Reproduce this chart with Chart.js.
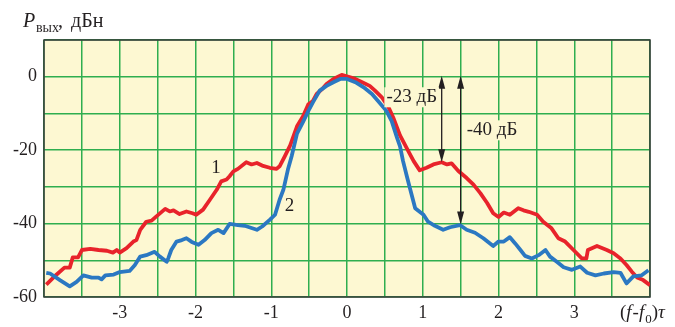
<!DOCTYPE html>
<html>
<head>
<meta charset="utf-8">
<script src="https://cdn.jsdelivr.net/npm/chart.js@4/dist/chart.umd.min.js"></script>
<style>
  html, body { margin: 0; padding: 0; background: #fff; }
  #wrap { width: 675px; height: 327px; }
</style>
</head>
<body>
<div id="wrap"><canvas id="chart" width="675" height="327"></canvas></div>
<script>
// curve 1 (red)
const curve1Freq = [-3.97, -3.84, -3.73, -3.66, -3.62, -3.55, -3.5, -3.39, -3.28, -3.17, -3.09, -3.04, -3, -2.91, -2.82, -2.78, -2.73, -2.65, -2.58, -2.52, -2.4, -2.34, -2.29, -2.21, -2.12, -2.04, -1.99, -1.9, -1.81, -1.72, -1.66, -1.59, -1.55, -1.5, -1.44, -1.33, -1.26, -1.19, -1.12, -1.02, -0.93, -0.89, -0.82, -0.75, -0.66, -0.58, -0.51, -0.45, -0.4, -0.33, -0.27, -0.18, -0.07, 0.02, 0.11, 0.2, 0.3, 0.37, 0.46, 0.55, 0.61, 0.7, 0.79, 0.88, 0.96, 1.05, 1.14, 1.25, 1.32, 1.38, 1.47, 1.58, 1.67, 1.76, 1.85, 1.93, 2, 2.07, 2.15, 2.26, 2.33, 2.4, 2.51, 2.59, 2.7, 2.79, 2.88, 2.99, 3.1, 3.16, 3.18, 3.3, 3.43, 3.52, 3.61, 3.69, 3.76, 3.83, 3.91, 4];
const curve1Level = [-56.6, -54, -52, -52, -49.2, -49.2, -47.2, -46.9, -47.2, -47.4, -47.9, -47.2, -47.9, -46.7, -44.9, -44.5, -41.7, -39.5, -39.2, -38.1, -36, -36.7, -36.4, -37.4, -36.7, -37.2, -37.6, -36.2, -33.5, -30.8, -28.5, -28, -27.1, -25.8, -25.1, -23.3, -23.9, -23.5, -24.2, -24.8, -25.1, -24.4, -21.6, -18.7, -13.5, -10.8, -7.5, -6.6, -4.7, -3.4, -2, -0.6, 0.5, 0, -0.6, -1.5, -2.5, -3.8, -5.6, -8.4, -11.1, -16, -19.5, -23, -25.5, -24.8, -23.9, -23.3, -23.9, -23.6, -25.7, -27.6, -29.4, -31.7, -34.4, -37.2, -38.2, -37, -37.6, -35.8, -36.4, -36.8, -37.6, -39.5, -41.3, -44, -44.9, -47.2, -49.5, -49.5, -47.2, -46.1, -47.2, -48.1, -49.5, -51.3, -53.1, -54.7, -55.4, -56.8];

// curve 2 (blue)
const curve2Freq = [-3.97, -3.92, -3.79, -3.66, -3.57, -3.48, -3.37, -3.28, -3.24, -3.19, -3.08, -3, -2.87, -2.8, -2.73, -2.65, -2.54, -2.47, -2.38, -2.36, -2.32, -2.25, -2.18, -2.12, -2.05, -1.96, -1.88, -1.79, -1.7, -1.63, -1.55, -1.44, -1.35, -1.29, -1.19, -1.12, -1.02, -0.95, -0.89, -0.84, -0.78, -0.73, -0.66, -0.58, -0.51, -0.45, -0.36, -0.27, -0.18, -0.09, 0, 0.11, 0.22, 0.33, 0.41, 0.52, 0.59, 0.66, 0.7, 0.74, 0.79, 0.83, 0.9, 1.01, 1.07, 1.16, 1.27, 1.36, 1.49, 1.58, 1.69, 1.8, 1.93, 2, 2.07, 2.15, 2.22, 2.29, 2.35, 2.44, 2.53, 2.62, 2.68, 2.77, 2.86, 2.97, 3.08, 3.17, 3.28, 3.39, 3.52, 3.61, 3.69, 3.78, 3.89, 3.98];
const curve2Level = [-53.4, -53.6, -55.4, -57.1, -55.9, -54.1, -54.7, -54.7, -55.2, -54.1, -53.9, -53.2, -52.9, -51.3, -49, -48.6, -47.7, -49, -50.4, -49.5, -47.2, -44.9, -44.5, -44, -45, -45.8, -44.5, -42.6, -41.7, -42.6, -40.1, -40.4, -40.6, -41, -41.7, -40.8, -39, -37.6, -33.5, -30.8, -25.3, -21.6, -15.5, -12.3, -9.3, -7, -3.8, -2.5, -1.5, -0.6, -0.6, -1.5, -2.9, -4.7, -6.6, -9.3, -12.1, -16.6, -19, -23, -27.1, -30.3, -35.8, -37.6, -39.5, -40.6, -41.7, -41, -40.4, -41.7, -42.5, -44, -46.1, -44.9, -44.9, -43.7, -45.4, -47.2, -48.8, -49.5, -48.6, -47.2, -49, -50.4, -51.9, -52.6, -51.7, -53.4, -54.1, -53.6, -53.2, -53.4, -56.3, -54.4, -54.1, -52.7];

// axes
const xMin = -4, xMax = 4, xStep = 0.5;
const yMin = -60, yMax = 10, yStep = 10;
const xLabels = [-3, -2, -1, 0, 1, 2, 3];
const yLabels = [0, -20, -40, -60];

// dB markers: [freq, from level, to level, text, text freq, text level]
const markers = [
  [1.25, 0, -23, "-23 дБ", 0.52, -5.6],
  [1.5, 0, -40, "-40 дБ", 1.58, -14.6]
];
// curve numbers: [text, freq, level]
const curveTags = [["1", -1.73, -24.8], ["2", -0.76, -35.3]];

const BG = "#fdf8d2";
const GRID = "#2fae4f";
const INK = "#231f20";
const SERIF = "'Liberation Serif', 'DejaVu Serif', serif";

const toPoints = (xs, ys) => xs.map((x, i) => ({ x, y: ys[i] }));

const plotDecor = {
  id: "plotDecor",
  beforeDraw(chart) {
    const { ctx, chartArea: a } = chart;
    ctx.save();
    ctx.fillStyle = BG;
    ctx.fillRect(a.left, a.top, a.right - a.left, a.bottom - a.top);
    ctx.restore();
  },
  beforeDatasetsDraw(chart) {
    const { ctx, chartArea: a } = chart;
    ctx.save();
    ctx.strokeStyle = "#3a3a3a";
    ctx.lineWidth = 1.5;
    ctx.strokeRect(a.left, a.top, a.right - a.left, a.bottom - a.top);
    ctx.restore();
  },
  afterDraw(chart) {
    const { ctx } = chart;
    const xs = chart.scales.x, ys = chart.scales.y;
    ctx.save();
    ctx.fillStyle = INK;
    ctx.strokeStyle = INK;
    ctx.textBaseline = "middle";

    markers.forEach(([f, l1, l2, text, tf, tl]) => {
      const px = xs.getPixelForValue(f);
      const y1 = ys.getPixelForValue(l1) - 1;
      const y2 = ys.getPixelForValue(l2) + 1;
      ctx.lineWidth = 1.3;
      ctx.beginPath();
      ctx.moveTo(px, y1 + 8);
      ctx.lineTo(px, y2 - 8);
      ctx.stroke();
      [[y1, 1], [y2, -1]].forEach(([tip, dir]) => {
        ctx.beginPath();
        ctx.moveTo(px, tip);
        ctx.lineTo(px - 3.5, tip + dir * 13);
        ctx.lineTo(px + 3.5, tip + dir * 13);
        ctx.closePath();
        ctx.fill();
      });
      ctx.font = "19px " + SERIF;
      const tx = xs.getPixelForValue(tf), ty = ys.getPixelForValue(tl);
      const w = ctx.measureText(text).width;
      ctx.fillStyle = BG;
      ctx.fillRect(tx - 2, ty - 10, w + 4, 20);
      ctx.fillStyle = INK;
      ctx.textAlign = "left";
      ctx.fillText(text, tx, ty);
    });

    ctx.font = "19px " + SERIF;
    ctx.textAlign = "center";
    curveTags.forEach(([t, f, l]) => ctx.fillText(t, xs.getPixelForValue(f), ys.getPixelForValue(l)));

    // y title: Pвых, дБн
    ctx.textAlign = "left";
    ctx.textBaseline = "alphabetic";
    ctx.font = "italic 20px " + SERIF;
    ctx.fillText("P", 23, 27);
    ctx.font = "14px " + SERIF;
    ctx.fillText("вых", 36, 32);
    ctx.font = "20px " + SERIF;
    ctx.fillText(",", 58, 27);
    ctx.fillText("дБн", 71, 27);

    // x title: (f-f0)τ
    let x = 620;
    const y = 318;
    const parts = [["(", "19px"], ["f", "italic 19px"], ["-", "19px"], ["f", "italic 19px"], ["0", "13px", 5], [")", "19px"], ["τ", "italic 19px"]];
    parts.forEach(([t, f, dy]) => {
      ctx.font = f + " " + SERIF;
      ctx.fillText(t, x, y + (dy || 0));
      x += ctx.measureText(t).width + (t === "f" ? 1 : 0);
    });
    ctx.restore();
  }
};

new Chart(document.getElementById("chart"), {
  type: "line",
  data: {
    datasets: [
      { label: "2", data: toPoints(curve2Freq, curve2Level), borderColor: "#2b78c2", borderWidth: 3.8, pointRadius: 0, tension: 0, borderJoinStyle: "round" },
      { label: "1", data: toPoints(curve1Freq, curve1Level), borderColor: "#e8232b", borderWidth: 3.8, pointRadius: 0, tension: 0, borderJoinStyle: "round" }
    ]
  },
  options: {
    responsive: false,
    animation: false,
    layout: { padding: { top: 40, right: 25, left: 0, bottom: 0 } },
    plugins: { legend: { display: false }, tooltip: { enabled: false } },
    scales: {
      x: {
        type: "linear",
        min: xMin,
        max: xMax,
        afterFit: (s) => { s.height = 30; },
        grid: { color: GRID, lineWidth: 1.5, drawTicks: false },
        border: { display: false },
        ticks: {
          stepSize: xStep,
          autoSkip: false,
          maxRotation: 0,
          padding: 5,
          color: INK,
          font: { family: SERIF, size: 18 },
          callback: (v) => (xLabels.includes(v) ? String(v) : "")
        }
      },
      y: {
        min: yMin,
        max: yMax,
        afterFit: (s) => { s.width = 44; },
        grid: { color: GRID, lineWidth: 1.5, drawTicks: false },
        border: { display: false },
        ticks: {
          stepSize: yStep,
          autoSkip: false,
          padding: 7,
          color: INK,
          font: { family: SERIF, size: 18 },
          callback: (v) => (yLabels.includes(v) ? String(v) : "")
        }
      }
    }
  },
  plugins: [plotDecor]
});
</script>
</body>
</html>
